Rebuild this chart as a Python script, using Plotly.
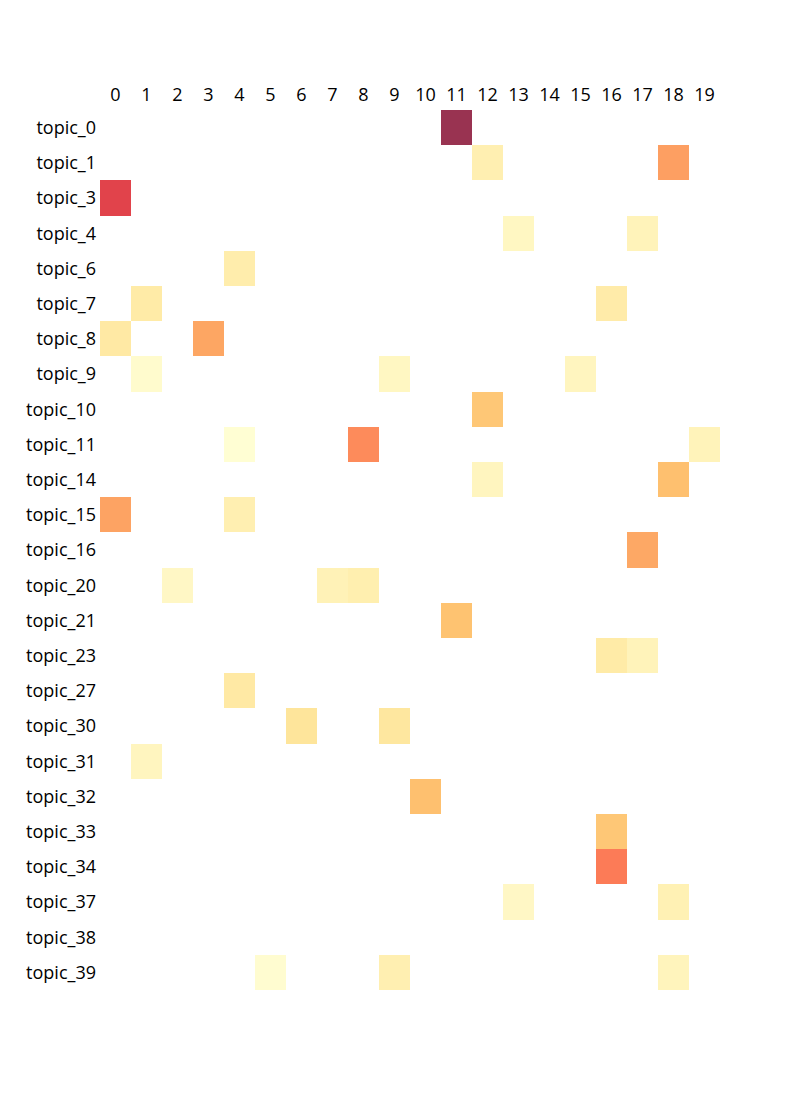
import plotly.graph_objects as go

topics = ["topic_0", "topic_1", "topic_3", "topic_4", "topic_6", "topic_7", "topic_8",
          "topic_9", "topic_10", "topic_11", "topic_14", "topic_15", "topic_16", "topic_20",
          "topic_21", "topic_23", "topic_27", "topic_30", "topic_31", "topic_32", "topic_33",
          "topic_34", "topic_37", "topic_38", "topic_39"]
columns = [str(i) for i in range(20)]

# non-empty cells: topic -> {column: value}
cells_topic_0 = {11: 1.00}
cells_topic_1 = {12: 0.13, 18: 0.51}
cells_topic_3 = {0: 0.78}
cells_topic_4 = {13: 0.07, 17: 0.10}
cells_topic_6 = {4: 0.15}
cells_topic_7 = {1: 0.17, 16: 0.16}
cells_topic_8 = {0: 0.18, 3: 0.49}
cells_topic_9 = {1: 0.03, 9: 0.07, 15: 0.08}
cells_topic_10 = {12: 0.35}
cells_topic_11 = {4: 0.01, 8: 0.56, 19: 0.10}
cells_topic_14 = {12: 0.08, 18: 0.38}
cells_topic_15 = {0: 0.50, 4: 0.13}
cells_topic_16 = {17: 0.48}
cells_topic_20 = {2: 0.06, 7: 0.11, 8: 0.14}
cells_topic_21 = {11: 0.37}
cells_topic_23 = {16: 0.17, 17: 0.10}
cells_topic_27 = {4: 0.18}
cells_topic_30 = {6: 0.21, 9: 0.20}
cells_topic_31 = {1: 0.08}
cells_topic_32 = {10: 0.38}
cells_topic_33 = {16: 0.35}
cells_topic_34 = {16: 0.60}
cells_topic_37 = {13: 0.06, 18: 0.12}
cells_topic_38 = {}
cells_topic_39 = {5: 0.02, 9: 0.13, 18: 0.09}

rows = [cells_topic_0, cells_topic_1, cells_topic_3, cells_topic_4, cells_topic_6,
        cells_topic_7, cells_topic_8, cells_topic_9, cells_topic_10, cells_topic_11,
        cells_topic_14, cells_topic_15, cells_topic_16, cells_topic_20, cells_topic_21,
        cells_topic_23, cells_topic_27, cells_topic_30, cells_topic_31, cells_topic_32,
        cells_topic_33, cells_topic_34, cells_topic_37, cells_topic_38, cells_topic_39]

z = [[r.get(c) for c in range(20)] for r in rows]

ylorrd = [
    [0.0, "rgb(255,255,204)"], [0.125, "rgb(255,237,160)"], [0.25, "rgb(254,217,118)"],
    [0.375, "rgb(254,178,76)"], [0.5, "rgb(253,141,60)"], [0.625, "rgb(252,78,42)"],
    [0.75, "rgb(227,26,28)"], [0.875, "rgb(189,0,38)"], [1.0, "rgb(128,0,38)"],
]

fig = go.Figure(go.Heatmap(
    z=z, x=columns, y=topics,
    colorscale=ylorrd, zmin=0, zmax=1,
    opacity=0.8, showscale=False, hoverongaps=False,
))

fig.update_layout(
    width=800, height=1100,
    margin=dict(l=92, r=88, t=102, b=118),
    plot_bgcolor="white", paper_bgcolor="white",
    font=dict(family="Open Sans, sans-serif", size=18, color="black"),
)
fig.update_xaxes(side="top", type="category", showgrid=False, zeroline=False,
                 showline=False, ticks="", automargin=False, ticklabelstandoff=4)
fig.update_yaxes(type="category", autorange="reversed", showgrid=False, zeroline=False,
                 showline=False, ticks="", automargin=False, ticklabelstandoff=3)

fig.write_html("out.html")
